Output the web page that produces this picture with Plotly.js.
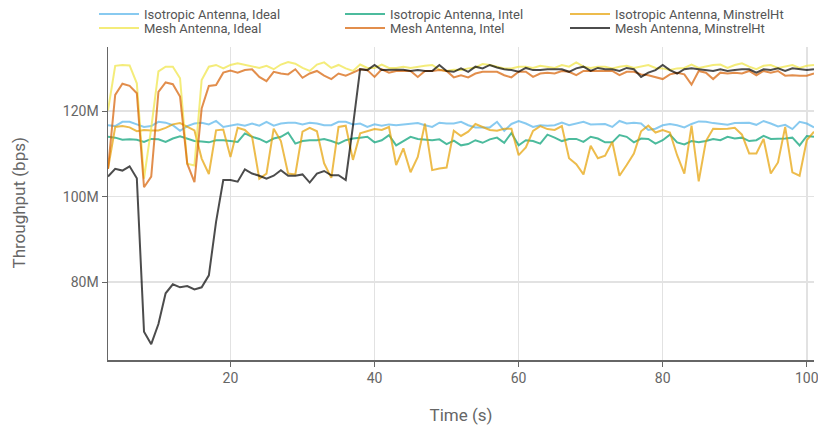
<!DOCTYPE html>
<html>
<head>
<meta charset="utf-8">
<script src="https://cdn.plot.ly/plotly-3.0.1.min.js"></script>
<style>html,body{margin:0;padding:0;background:#fff;}#chart{width:818px;height:430px;}</style>
</head>
<body>
<div id="chart"></div>
<script>
// Time axis (s)
const time = [];
for (let t = 3; t <= 101; t++) time.push(t);

// Throughput values in Mbps
const isoIdeal = [116.7,116.5,117.5,117.5,116.9,116.3,116.5,117.5,117.3,116.7,115.4,116.5,117.1,117.3,116.9,117.7,116.3,116.6,116.9,
  116.6,117.1,116.6,117.5,116.6,117.1,117.3,117.3,116.9,117.3,117.1,116.7,116.7,117.5,117.5,116.9,117.1,116.3,116.9,116.6,
  116.9,116.7,116.9,117.0,117.2,116.7,116.3,
  117.3,117.1,117.1,117.5,116.7,116.2,116.2,116.2,117.5,115.4,117.0,117.7,
  117.1,116.3,116.7,116.6,116.7,117.3,116.7,117.1,117.5,116.9,117.0,117.0,116.3,117.7,117.1,117.3,117.1,115.6,115.9,116.7,
  117.0,116.7,116.2,117.0,117.6,117.5,117.2,117.0,116.8,117.2,117.2,117.3,116.8,117.7,117.1,116.4,116.8,115.8,117.5,117.1,116.2];

const isoIntel = [114.0,113.8,113.3,113.4,113.3,112.8,113.5,113.4,112.8,113.6,114.1,113.6,113.0,112.9,112.7,113.2,113.2,113.0,112.8,
  114.8,114.0,113.5,112.7,113.6,114.0,115.0,112.4,113.0,113.2,113.2,113.5,113.0,112.4,113.2,113.6,113.8,114.0,112.7,113.2,
  114.4,112.0,113.0,114.0,113.5,113.4,113.2,
  113.4,112.3,113.1,112.0,112.3,113.2,112.6,113.4,113.8,112.6,114.9,112.0,
  113.2,113.0,112.4,114.5,113.8,113.0,113.5,113.5,112.8,114.0,113.6,112.7,112.7,114.4,114.0,112.7,113.6,113.5,112.4,113.2,
  114.5,112.7,112.2,113.0,112.7,113.0,113.5,113.2,114.0,113.6,113.8,113.0,113.2,114.2,113.5,113.5,113.6,113.8,112.0,114.2,114.0];

const isoMinstrel = [106.5,116.3,116.5,116.2,115.3,115.6,115.5,115.5,116.1,116.9,117.2,116.4,115.5,108.9,105.3,115.5,115.7,109.3,116.1,
  115.6,114.0,104.2,105.4,115.9,113.0,105.4,105.2,115.2,116.1,115.3,107.8,104.4,116.3,116.6,108.6,114.8,115.3,115.8,115.6,
  116.3,107.4,111.3,105.7,109.3,117.1,106.2,
  106.6,106.8,115.4,114.2,115.2,117.0,116.3,115.6,115.4,115.9,115.9,109.7,
  111.5,115.4,116.5,115.8,115.6,116.5,109.0,107.6,105.2,111.9,109.0,109.6,112.8,104.9,107.4,110.1,115.3,116.6,115.0,115.6,
  115.0,109.7,105.4,116.6,103.6,113.0,115.9,115.8,115.9,116.1,114.5,110.1,110.1,113.5,105.4,108.0,116.3,105.7,104.9,113.2,115.2];

const meshIdeal = [120.2,130.6,130.8,130.7,126.5,104.2,116.0,129.3,130.4,130.4,127.7,107.7,107.3,127.3,130.4,130.8,130.0,130.8,131.2,
  130.8,130.4,130.1,130.6,129.8,130.9,131.5,131.1,130.1,129.4,130.9,131.4,130.1,130.8,130.0,129.4,130.9,130.1,130.1,130.9,
  130.1,130.1,130.4,130.1,130.4,130.6,130.8,
  129.7,129.4,129.7,129.6,130.0,130.2,131.0,130.8,130.4,130.0,130.0,130.4,
  130.4,130.1,130.6,130.4,130.1,130.8,130.4,131.4,130.4,130.1,130.4,130.4,130.0,130.4,130.6,130.1,130.4,130.8,130.1,130.0,
  129.6,130.0,130.1,130.9,130.1,130.4,130.8,130.9,130.1,130.8,131.2,130.4,129.8,130.6,130.8,130.1,130.4,130.8,130.1,130.6,130.8];

const meshIntel = [106.5,123.8,126.4,125.9,124.2,102.2,104.7,124.5,126.7,126.3,123.4,107.7,103.4,120.6,125.9,126.1,129.0,129.5,129.0,
  129.6,129.8,128.0,127.0,129.2,128.8,128.6,129.8,127.8,128.8,129.4,128.3,127.5,128.8,128.3,129.0,129.8,129.6,128.0,129.8,
  129.0,129.4,129.4,129.4,128.0,129.4,129.4,
  129.6,129.4,127.9,128.4,127.9,128.8,129.2,129.2,129.2,128.4,127.9,129.2,
  129.2,128.0,128.8,129.0,128.8,129.4,129.2,128.4,129.4,129.4,129.4,129.4,129.4,128.4,129.2,129.2,128.6,128.4,128.0,127.5,
  128.6,129.0,128.6,126.2,129.4,129.0,127.5,129.0,128.8,129.0,128.8,129.4,128.4,129.4,129.0,129.4,128.3,128.4,128.3,128.3,128.8];

const meshMinstrel = [104.7,106.5,106.1,107.1,104.3,68.4,65.5,70.2,77.4,79.5,78.8,79.1,78.3,78.8,81.6,94.1,103.9,103.9,103.5,
  106.4,105.4,104.9,104.2,104.9,106.2,104.9,104.9,105.2,103.3,105.4,106.0,105.0,105.0,103.9,116.5,
  129.8,129.6,130.8,129.6,129.7,129.7,129.7,129.4,129.6,129.4,129.4,
  130.8,129.4,129.2,130.0,129.2,130.4,130.0,130.8,130.2,129.8,129.6,129.2,
  130.1,129.6,129.6,129.8,129.8,129.8,129.2,130.0,130.4,129.4,130.1,129.8,129.8,129.4,130.1,129.8,128.0,129.0,129.6,130.8,
  129.6,128.8,129.8,130.0,129.8,129.6,129.4,129.8,129.4,129.6,129.8,129.8,129.0,129.8,129.6,130.0,129.4,130.0,129.8,129.6,129.8];

const seriesNames = ['Isotropic Antenna, Ideal','Isotropic Antenna, Intel','Isotropic Antenna, MinstrelHt',
                     'Mesh Antenna, Ideal','Mesh Antenna, Intel','Mesh Antenna, MinstrelHt'];
const seriesValues = [isoIdeal, isoIntel, isoMinstrel, meshIdeal, meshIntel, meshMinstrel];
const seriesColors = ['#56B4E9','#009E73','#E69F00','#F0E442','#D55E00','#000000'];
const yTitle = 'Throughput (bps)';
const xTitle = 'Time (s)';

// legend row centres (px from top) and left edges (px)
const legendPos = [[94,14],[340,14],[565,14],[94,28],[340,28],[565,28]];

const traces = seriesValues.map((vals, i) => ({
  type: 'scatter', mode: 'lines',
  x: time, y: vals.map(v => v * 1e6),
  name: seriesNames[i],
  line: {color: seriesColors[i], width: 2},
  opacity: 0.7,
  legend: i === 0 ? 'legend' : 'legend' + (i + 1)
}));

const W = 818, H = 430;
const ML = 108, MR = 4;
const layout = {
  width: W, height: H,
  margin: {l: ML, r: MR, t: 47, b: 70, autoexpand: false},
  paper_bgcolor: '#fff', plot_bgcolor: '#fff',
  font: {family: 'Roboto, sans-serif', size: 12, color: '#555'},
  xaxis: {
    range: [3, 101], tickvals: [20,40,60,80,100],
    showgrid: true, gridcolor: '#e2e2e2', gridwidth: 1.5,
    showline: true, linecolor: '#666', linewidth: 1.5,
    ticks: 'outside', ticklen: 5, tickcolor: '#666',
    tickfont: {family: 'Roboto, sans-serif', size: 14, color: '#666'},
    ticklabeloverflow: 'allow',
    zeroline: false, automargin: true,
    title: {text: xTitle, font: {family: 'Roboto, sans-serif', size: 17, color: '#666'}, standoff: 24}
  },
  yaxis: {
    range: [61.8e6, 135e6], tickvals: [80e6,100e6,120e6],
    showgrid: true, gridcolor: '#e2e2e2', gridwidth: 1.5,
    showline: true, linecolor: '#666', linewidth: 1.5,
    ticks: 'outside', ticklen: 5, tickcolor: '#666',
    tickfont: {family: 'Roboto, sans-serif', size: 14, color: '#666'},
    zeroline: false
  },
  annotations: [{
    text: yTitle, xref: 'paper', yref: 'paper',
    x: (18 - ML) / (W - ML - MR), y: 0.5, xanchor: 'center', yanchor: 'middle',
    textangle: -90, showarrow: false,
    font: {family: 'Roboto, sans-serif', size: 17, color: '#666'}
  }],
  showlegend: true
};
legendPos.forEach((p, i) => {
  const key = i === 0 ? 'legend' : 'legend' + (i + 1);
  layout[key] = {
    xref: 'container', yref: 'container',
    x: p[0] / W, y: 1 - p[1] / H, xanchor: 'left', yanchor: 'middle',
    orientation: 'v', bgcolor: 'rgba(0,0,0,0)', itemwidth: 40,
    font: {family: 'Roboto, sans-serif', size: 13, color: '#555'}
  };
});

Plotly.newPlot('chart', traces, layout, {displayModeBar: false, staticPlot: true});
</script>
</body>
</html>
